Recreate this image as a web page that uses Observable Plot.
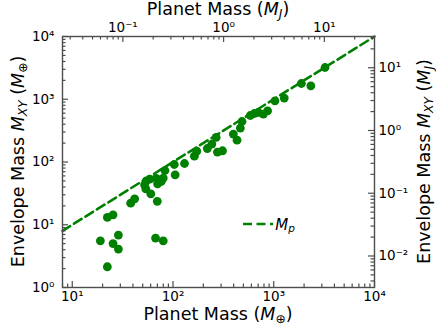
<!DOCTYPE html>
<html>
<head>
<meta charset="utf-8">
<script src="https://cdn.jsdelivr.net/npm/d3@7"></script>
<script src="https://cdn.jsdelivr.net/npm/@observablehq/plot@0.6"></script>
<style>
  html, body { margin: 0; padding: 0; background: #fff; }
  #chart { width: 436px; height: 327px; }
  svg text { font-family: "DejaVu Sans", sans-serif; }
</style>
</head>
<body>
<div id="chart"></div>
<script>
// ---- Data ----
const EARTH_PER_JUPITER = 317.8;
const planetMass = [19.0, 22.3, 25.4, 22.3, 25.4, 28.7, 28.7, 38.0, 41.6, 67.1,
  80.0, 69.8, 60.2, 53.7, 52.2, 54.3, 58.6, 68.2, 70.3, 76.4,
  80.0, 83.2, 105, 103, 130, 163, 172, 219, 243, 268,
  276, 310, 397, 432, 466, 484, 585, 642, 702, 788,
  869, 1028, 1271, 1879, 2334, 3228];
const envelopeMass = [5.55, 13.1, 14.4, 2.14, 5.02, 6.84, 4.09, 22.1, 25.9, 6.13,
  5.55, 23.6, 31.1, 37.4, 43.3, 50.2, 53.4, 55.0, 44.9, 48.9,
  55.4, 73.2, 62.5, 91.2, 94.6, 124, 149, 164, 193, 246,
  144, 151, 279, 223, 347, 442, 551, 593, 615, 580,
  655, 944, 1043, 1782, 1638, 3206];
const lineMass = [8, 10000]; // M_env = M_p reference line
const xDomain = [8, 10000];
const yDomain = [1, 10000];
const xMajorTicks = [10, 100, 1000, 10000];
const xMajorLabels = ["10¹", "10²", "10³", "10⁴"];
const yMajorTicks = [1, 10, 100, 1000, 10000];
const yMajorLabels = ["10⁰", "10¹", "10²", "10³", "10⁴"];
const topMajorTicksMJ = [0.1, 1, 10];
const topMajorLabels = ["10⁻¹", "10⁰", "10¹"];
const rightMajorTicksMJ = [0.01, 0.1, 1, 10];
const rightMajorLabels = ["10⁻²", "10⁻¹", "10⁰", "10¹"];

// ---- layout / style ----
const green = "#008000";
const axisColor = "#4d4d4d";
const W = 436, H = 327;
const mL = 62, mR = 62, mT = 36, mB = 40;
const plotW = W - mL - mR, plotH = H - mT - mB;
const majorLen = 6, minorLen = 3.5, tickFont = 13.5;

function minorTicks(domain) {
  return d3.scaleLog().domain(domain).ticks().filter(v => {
    const l = Math.log10(v);
    return Math.abs(l - Math.round(l)) > 1e-9;
  });
}
const xMinor = minorTicks(xDomain);
const yMinor = minorTicks(yDomain);
const topMinor = minorTicks(xDomain.map(v => v / EARTH_PER_JUPITER)).map(v => v * EARTH_PER_JUPITER);
const rightMinor = minorTicks(yDomain.map(v => v / EARTH_PER_JUPITER)).map(v => v * EARTH_PER_JUPITER);
const topMajor = topMajorTicksMJ.map(v => v * EARTH_PER_JUPITER);
const rightMajor = rightMajorTicksMJ.map(v => v * EARTH_PER_JUPITER);

const points = planetMass.map((m, i) => ({m, env: envelopeMass[i]}));
const lineData = lineMass.map(m => ({m, env: m}));

const tk = {stroke: axisColor, strokeWidth: 1.2};
function xTicks(vals, side, len) {
  return Plot.ruleX(vals, {x: d => d, ...tk, ...(side === "bottom" ? {insetTop: plotH - len} : {insetBottom: plotH - len})});
}
function yTicks(vals, side, len) {
  return Plot.ruleY(vals, {y: d => d, ...tk, ...(side === "left" ? {insetRight: plotW - len} : {insetLeft: plotW - len})});
}
const txt = {fill: "#000", fontSize: tickFont, stroke: null};

const plot = Plot.plot({
  width: W, height: H,
  marginLeft: mL, marginRight: mR, marginTop: mT, marginBottom: mB,
  style: {fontFamily: "DejaVu Sans, sans-serif", background: "#fff", overflow: "visible"},
  x: {type: "log", domain: xDomain, axis: null},
  y: {type: "log", domain: yDomain, axis: null},
  marks: [
    Plot.line(lineData, {x: "m", y: "env", stroke: green, strokeWidth: 2.6, strokeDasharray: "9,4.5"}),
    Plot.dot(points, {x: "m", y: "env", r: 4.4, fill: green, stroke: null}),
    // ticks (pointing inward, like the reference)
    xTicks(xMajorTicks, "bottom", majorLen), xTicks(xMinor, "bottom", minorLen),
    xTicks(topMajor, "top", majorLen), xTicks(topMinor, "top", minorLen),
    yTicks(yMajorTicks, "left", majorLen), yTicks(yMinor, "left", minorLen),
    yTicks(rightMajor, "right", majorLen), yTicks(rightMinor, "right", minorLen),
    Plot.frame({stroke: axisColor, strokeWidth: 1.4}),
    // tick labels
    Plot.text(xMajorTicks, {x: d => d, text: (d, i) => xMajorLabels[i], frameAnchor: "bottom", lineAnchor: "top", dy: 4, ...txt}),
    Plot.text(topMajor, {x: d => d, text: (d, i) => topMajorLabels[i], frameAnchor: "top", lineAnchor: "bottom", dy: -5, ...txt}),
    Plot.text(yMajorTicks, {y: d => d, text: (d, i) => yMajorLabels[i], frameAnchor: "left", textAnchor: "end", dx: -8, ...txt}),
    Plot.text(rightMajor, {y: d => d, text: (d, i) => rightMajorLabels[i], frameAnchor: "right", textAnchor: "start", dx: 4, ...txt})
  ]
});
document.getElementById("chart").appendChild(plot);

// ---- axis titles and legend (real SVG text) ----
const svg = d3.select(plot);
const cx = mL + plotW / 2;
const cy = mT + plotH / 2;

function massLabel(sel, parts) {
  for (const [t0, style] of parts) {
    const t = sel.append("tspan").text(t0);
    if (style === "it") t.attr("font-style", "italic");
    if (style === "sub") t.attr("font-size", "0.7em").attr("dy", "0.22em");
    if (style === "subit") t.attr("font-size", "0.7em").attr("dy", "0.22em").attr("font-style", "italic");
    if (style === "up") t.attr("dy", "-0.154em");
  }
}
const tfont = 17.5;
massLabel(svg.append("text").attr("x", cx).attr("y", 320).attr("text-anchor", "middle").attr("font-size", tfont).attr("fill", "#000"),
  [["Planet Mass (", ""], ["M", "it"], ["⊕", "sub"], [")", "up"]]);
massLabel(svg.append("text").attr("x", cx).attr("y", 15).attr("text-anchor", "middle").attr("font-size", tfont).attr("fill", "#000"),
  [["Planet Mass (", ""], ["M", "it"], ["J", "subit"], [")", "up"]]);
massLabel(svg.append("text").attr("transform", `translate(24,${cy}) rotate(-90)`).attr("text-anchor", "middle").attr("font-size", tfont).attr("fill", "#000"),
  [["Envelope Mass ", ""], ["M", "it"], ["XY", "subit"], [" (", "up"], ["M", "it"], ["⊕", "sub"], [")", "up"]]);
massLabel(svg.append("text").attr("transform", `translate(430,${cy}) rotate(-90)`).attr("text-anchor", "middle").attr("font-size", tfont).attr("fill", "#000"),
  [["Envelope Mass ", ""], ["M", "it"], ["XY", "subit"], [" (", "up"], ["M", "it"], ["J", "subit"], [")", "up"]]);

// legend
svg.append("line").attr("x1", 243).attr("x2", 273).attr("y1", 224).attr("y2", 224)
  .attr("stroke", green).attr("stroke-width", 2.6).attr("stroke-dasharray", "9,4.5");
massLabel(svg.append("text").attr("x", 285).attr("y", 230).attr("font-size", 15).attr("fill", "#000"),
  [["M", "it"], ["p", "subit"]]);
</script>
</body>
</html>
